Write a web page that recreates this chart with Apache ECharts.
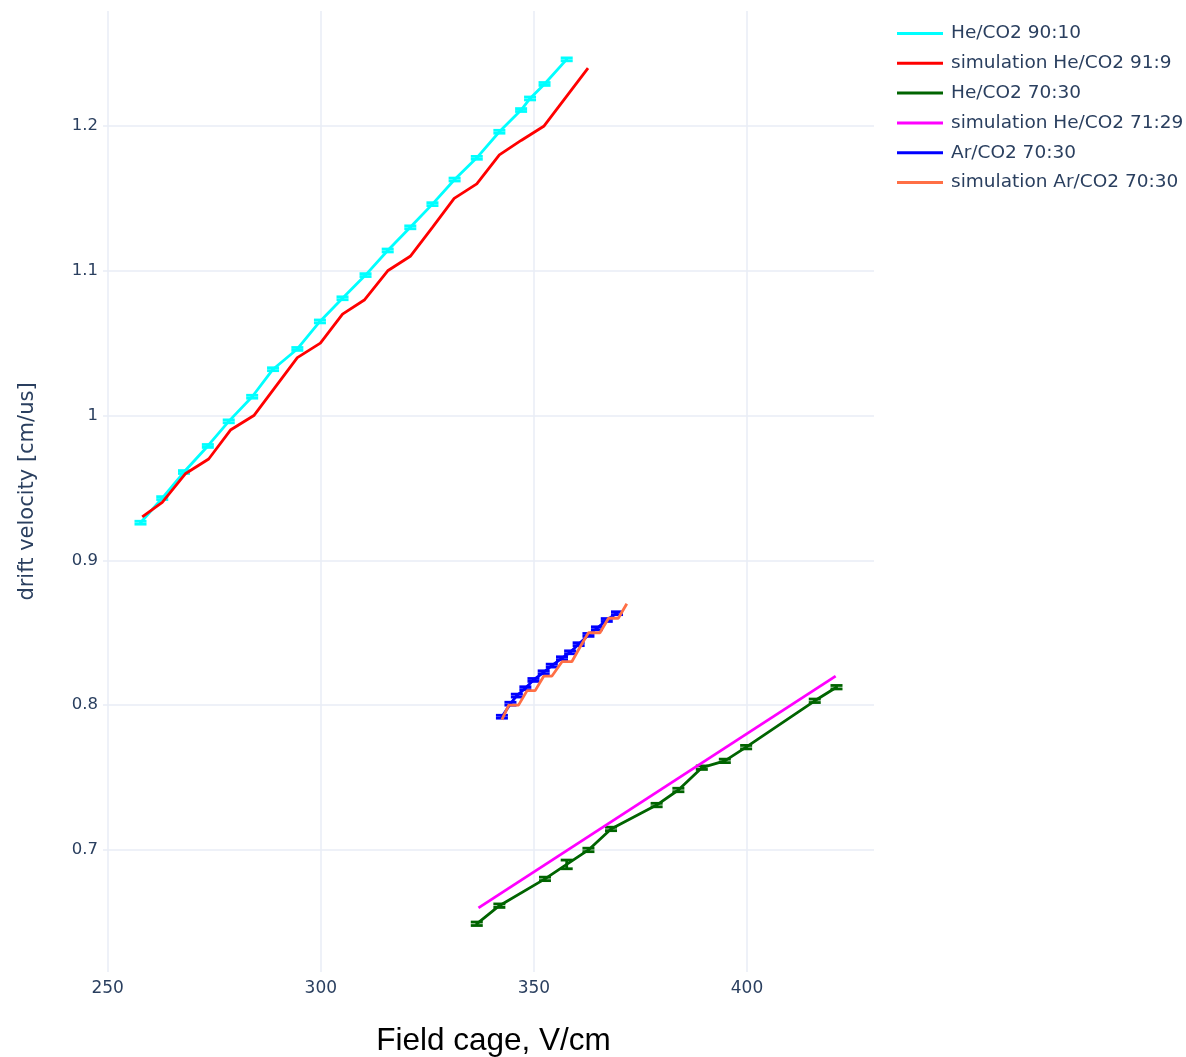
<!DOCTYPE html>
<html>
<head>
	<meta charset="utf-8"/>
	<title>drift velocity</title>
</head>
<body style="margin: 0; background: #fff;">

	<div id="chart" style="width: 1186px; height: 1057px;"></div>

	<script src="https://cdn.jsdelivr.net/npm/echarts@6/dist/echarts.min.js"></script>
	<script>

		// He/CO2 90:10 (measured)
		var heCo2_90_x = [257.7, 262.8, 267.9, 273.5, 278.4, 283.9, 288.8, 294.5, 299.8, 305.1, 310.5,
			315.7, 321.0, 326.2, 331.4, 336.6, 341.9, 347.0, 349.1, 352.5, 357.7];
		var heCo2_90_y = [0.926, 0.943, 0.961, 0.979, 0.996, 1.013, 1.032, 1.046, 1.065, 1.081, 1.097,
			1.114, 1.130, 1.146, 1.163, 1.178, 1.196, 1.211, 1.219, 1.229, 1.246];
		var heCo2_90_err = [0.001, 0.001, 0.001, 0.001, 0.001, 0.001, 0.001, 0.001, 0.001, 0.001, 0.001,
			0.001, 0.001, 0.001, 0.001, 0.001, 0.001, 0.001, 0.001, 0.001, 0.001];

		// simulation He/CO2 91:9
		var simHe91_x = [258.1, 262.8, 268.3, 273.7, 278.8, 284.3, 289.4, 294.5, 299.9, 305.1,
			310.3, 315.7, 321.0, 326.2, 331.3, 336.6, 341.9, 347.0, 352.4, 362.7];
		var simHe91_y = [0.93, 0.94, 0.96, 0.97, 0.99, 1.00, 1.02, 1.04, 1.05, 1.07,
			1.08, 1.10, 1.11, 1.13, 1.15, 1.16, 1.18, 1.19, 1.20, 1.24];

		// He/CO2 70:30 (measured)
		var heCo2_70_x = [336.6, 341.9, 352.6, 357.7, 362.8, 368.1, 378.8, 383.9, 389.4, 394.8, 399.8, 415.9, 421.0];
		var heCo2_70_y = [0.649, 0.6615, 0.680, 0.690, 0.700, 0.7145, 0.731, 0.7414, 0.7568, 0.7615, 0.771, 0.803, 0.8124];
		var heCo2_70_err = [0.0012, 0.0012, 0.0012, 0.003, 0.0012, 0.0012, 0.0012, 0.0012, 0.0012, 0.0012, 0.0012, 0.0012, 0.0012];

		// simulation He/CO2 71:29
		var simHe71_x = [337.0, 420.8];
		var simHe71_y = [0.66, 0.82];

		// Ar/CO2 70:30 (measured)
		var arCo2_x = [342.5, 344.5, 346.0, 348.0, 349.9, 352.3, 354.2, 356.6, 358.5, 360.5, 362.8, 364.8, 367.1, 369.5];
		var arCo2_y = [0.792, 0.801, 0.8066, 0.8117, 0.8174, 0.8227, 0.8273, 0.8324, 0.8365, 0.8421, 0.8485, 0.8531, 0.8588, 0.8635];
		var arCo2_err = [0.001, 0.001, 0.001, 0.001, 0.001, 0.001, 0.001, 0.001, 0.001, 0.001, 0.001, 0.001, 0.001, 0.001];

		// simulation Ar/CO2 70:30
		var simAr_x = [342.5, 344.1, 346.4, 348.4, 350.3, 352.3, 354.2, 356.6, 358.9, 360.8, 362.8, 365.5, 367.5, 369.8, 371.8];
		var simAr_y = [0.79, 0.80, 0.80, 0.81, 0.81, 0.82, 0.82, 0.83, 0.83, 0.84, 0.85, 0.85, 0.86, 0.86, 0.87];

		var fontColor = '#2a3f5f';
		var gridColor = '#e8edf6';

		function pairs (xs, ys) {
			var res = [];
			for (var i = 0; i < xs.length; i++) {
				res.push([xs[i], ys[i]]);
			}
			return res;
		}

		function triples (xs, ys, es) {
			var res = [];
			for (var i = 0; i < xs.length; i++) {
				res.push([xs[i], ys[i], es[i]]);
			}
			return res;
		}

		function lineSeries (name, data, color) {
			return {
				name: name,
				type: 'line',
				data: data,
				showSymbol: false,
				symbol: 'none',
				lineStyle: { color: color, width: 2.8 },
				itemStyle: { color: color },
				animation: false
			};
		}

		// error bars with caps, like the measured points
		function errorSeries (data, color) {
			return {
				type: 'custom',
				data: data,
				silent: true,
				animation: false,
				renderItem: function (params, api) {
					var x = api.value(0), y = api.value(1), e = api.value(2);
					var top = api.coord([x, y + e]);
					var bot = api.coord([x, y - e]);
					var hw = 6;
					var style = { stroke: color, lineWidth: 2.8 };
					return {
						type: 'group',
						children: [
							{ type: 'line', shape: { x1: top[0], y1: top[1], x2: bot[0], y2: bot[1] }, style: style },
							{ type: 'line', shape: { x1: top[0] - hw, y1: top[1], x2: top[0] + hw, y2: top[1] }, style: style },
							{ type: 'line', shape: { x1: bot[0] - hw, y1: bot[1], x2: bot[0] + hw, y2: bot[1] }, style: style }
						]
					};
				}
			};
		}

		var myChart = echarts.init(document.getElementById('chart'));

		var option = {
			backgroundColor: '#fff',
			grid: {
				left: 103,
				right: 312,
				top: 11,
				bottom: 85,
				outerBoundsMode: 'none'
			},
			legend: {
				orient: 'vertical',
				left: 897,
				top: 23,
				padding: 0,
				itemWidth: 46,
				itemHeight: 3,
				itemGap: 8.8,
				icon: 'rect',
				textStyle: {
					fontFamily: 'DejaVu Sans',
					fontSize: 18.5,
					color: fontColor,
					lineHeight: 21,
					padding: [0, 0, 0, 3]
				},
				data: ['He/CO2 90:10', 'simulation He/CO2 91:9', 'He/CO2 70:30',
					'simulation He/CO2 71:29', 'Ar/CO2 70:30', 'simulation Ar/CO2 70:30']
			},
			xAxis: {
				type: 'value',
				min: 248.9,
				max: 429.8,
				minInterval: 50,
				maxInterval: 50,
				name: 'Field cage, V/cm',
				nameLocation: 'middle',
				nameGap: 53,
				nameTextStyle: {
					fontFamily: 'Liberation Sans',
					fontSize: 31.5,
					color: '#000',
					padding: [0, 0, 0, 10]
				},
				axisLine: { show: false },
				axisTick: { show: false },
				axisLabel: {
					showMinLabel: false,
					showMaxLabel: false,
					margin: 8,
					fontFamily: 'DejaVu Sans',
					fontSize: 17,
					color: fontColor
				},
				splitLine: {
					show: true,
					showMinLine: false,
					showMaxLine: false,
					lineStyle: { color: gridColor, width: 1.5 }
				}
			},
			yAxis: {
				type: 'value',
				min: 0.6157,
				max: 1.2794,
				minInterval: 0.1,
				maxInterval: 0.1,
				name: 'drift velocity [cm/us]',
				nameLocation: 'middle',
				nameGap: 65,
				nameTextStyle: {
					fontFamily: 'DejaVu Sans',
					fontSize: 21,
					color: fontColor
				},
				axisLine: { show: false },
				axisTick: { show: false },
				axisLabel: {
					showMinLabel: false,
					showMaxLabel: false,
					margin: 5,
					fontFamily: 'DejaVu Sans',
					fontSize: 16.5,
					color: fontColor,
					formatter: function (v) {
						return String(Math.round(v * 10) / 10);
					}
				},
				splitLine: {
					show: true,
					showMinLine: false,
					showMaxLine: false,
					lineStyle: { color: gridColor, width: 1.5 }
				}
			},
			series: [
				lineSeries('He/CO2 90:10', pairs(heCo2_90_x, heCo2_90_y), '#00ffff'),
				errorSeries(triples(heCo2_90_x, heCo2_90_y, heCo2_90_err), '#00ffff'),
				lineSeries('simulation He/CO2 91:9', pairs(simHe91_x, simHe91_y), '#ff0000'),
				lineSeries('He/CO2 70:30', pairs(heCo2_70_x, heCo2_70_y), '#006400'),
				errorSeries(triples(heCo2_70_x, heCo2_70_y, heCo2_70_err), '#006400'),
				lineSeries('simulation He/CO2 71:29', pairs(simHe71_x, simHe71_y), '#ff00ff'),
				lineSeries('Ar/CO2 70:30', pairs(arCo2_x, arCo2_y), '#0000ff'),
				errorSeries(triples(arCo2_x, arCo2_y, arCo2_err), '#0000ff'),
				lineSeries('simulation Ar/CO2 70:30', pairs(simAr_x, simAr_y), '#ff6f45')
			]
		};

		myChart.setOption(option);

	</script>
</body>
</html>
